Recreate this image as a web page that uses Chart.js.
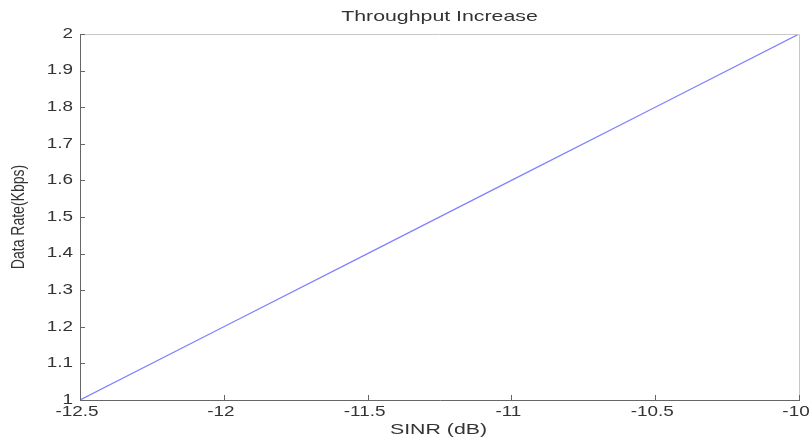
<!DOCTYPE html>
<html>
<head>
<meta charset="utf-8">
<script src="https://cdn.jsdelivr.net/npm/chart.js@4"></script>
<style>
  html, body { margin: 0; padding: 0; background: #fff; }
  #wrap { width: 811px; height: 441px; }
</style>
</head>
<body>
<div id="wrap"><canvas id="chart"></canvas></div>
<script>
var sinr = [-12.5, -12, -11.5, -11, -10.5, -10];
var dataRate = [1.0, 1.2, 1.4, 1.6, 1.8, 2.0];
var chartTitle = 'Throughput Increase';
var xLabel = 'SINR (dB)';
var yLabel = 'Data Rate(Kbps)';

var points = [];
for (var i in sinr) {
  points.push({ x: sinr[i], y: dataRate[i] });
}

var FAMILY = '"Liberation Sans", Arial, sans-serif';

function fmt(v) {
  return String(Math.round(v * 10) / 10);
}

// the original picture is stretched sideways, so text is drawn wider
function wideText(ctx, text, x, y, align, stretch) {
  ctx.save();
  ctx.translate(x, y);
  ctx.scale(stretch, 1);
  ctx.textAlign = align;
  ctx.textBaseline = 'middle';
  ctx.fillText(text, 0, 0);
  ctx.restore();
}

// MATLAB style frame: box, inner ticks, labels
var framePlugin = {
  id: 'frame',
  afterDraw: function(chart) {
    var ctx = chart.ctx;
    var a = chart.chartArea;
    var xs = chart.scales.x, ys = chart.scales.y;
    ctx.save();
    ctx.lineWidth = 1;
    ctx.strokeStyle = '#c8c8c8';
    ctx.beginPath();
    ctx.moveTo(a.left, a.top + 0.5);
    ctx.lineTo(a.right + 0.5, a.top + 0.5);
    ctx.lineTo(a.right + 0.5, a.bottom);
    ctx.stroke();
    ctx.strokeStyle = '#666';
    ctx.beginPath();
    ctx.moveTo(a.left + 0.5, a.top);
    ctx.lineTo(a.left + 0.5, a.bottom + 0.5);
    ctx.lineTo(a.right + 1, a.bottom + 0.5);
    ctx.stroke();
    ctx.beginPath();
    xs.ticks.forEach(function(t, i) {
      var px = Math.round(xs.getPixelForTick(i)) + 0.5;
      ctx.moveTo(px, a.bottom);
      ctx.lineTo(px, a.bottom - 5);
    });
    ys.ticks.forEach(function(t, i) {
      var py = Math.round(ys.getPixelForTick(i)) + 0.5;
      ctx.moveTo(a.left, py);
      ctx.lineTo(a.left + 5, py);
    });
    ctx.stroke();

    ctx.fillStyle = '#333';
    ctx.font = '14px ' + FAMILY;
    xs.ticks.forEach(function(t, i) {
      wideText(ctx, fmt(t.value), xs.getPixelForTick(i) - 3, a.bottom + 12, 'center', 1.35);
    });
    ys.ticks.forEach(function(t, i) {
      wideText(ctx, fmt(t.value), a.left - 7, ys.getPixelForTick(i), 'right', 1.35);
    });
    ctx.font = '15px ' + FAMILY;
    var cx = (a.left + a.right) / 2;
    wideText(ctx, chartTitle, cx, 17, 'center', 1.42);
    wideText(ctx, xLabel, cx - 1, 430, 'center', 1.42);

    ctx.font = '14px ' + FAMILY;
    ctx.translate(19, (a.top + a.bottom) / 2);
    ctx.rotate(-Math.PI / 2);
    ctx.scale(1, 1.3);
    ctx.textAlign = 'center';
    ctx.textBaseline = 'middle';
    ctx.fillText(yLabel, 0, 0);
    ctx.restore();
  }
};

var ctx = document.getElementById('chart');
new Chart(ctx, {
  type: 'line',
  data: {
    datasets: [{
      data: points,
      borderColor: '#8080ff',
      borderWidth: 1.2,
      pointRadius: 0,
      fill: false,
      tension: 0
    }]
  },
  options: {
    responsive: true,
    maintainAspectRatio: false,
    animation: false,
    layout: { padding: { top: 34, right: 12, left: 0, bottom: 0 } },
    plugins: {
      legend: { display: false },
      tooltip: { enabled: false }
    },
    scales: {
      x: {
        type: 'linear',
        min: -12.5,
        max: -10,
        grid: { display: false, drawTicks: false },
        border: { display: false },
        ticks: { stepSize: 0.5, display: false },
        afterFit: function(s) { s.height = 41; }
      },
      y: {
        min: 1,
        max: 2,
        grid: { display: false, drawTicks: false },
        border: { display: false },
        ticks: { stepSize: 0.1, display: false },
        afterFit: function(s) { s.width = 80; }
      }
    }
  },
  plugins: [framePlugin]
});
</script>
</body>
</html>
